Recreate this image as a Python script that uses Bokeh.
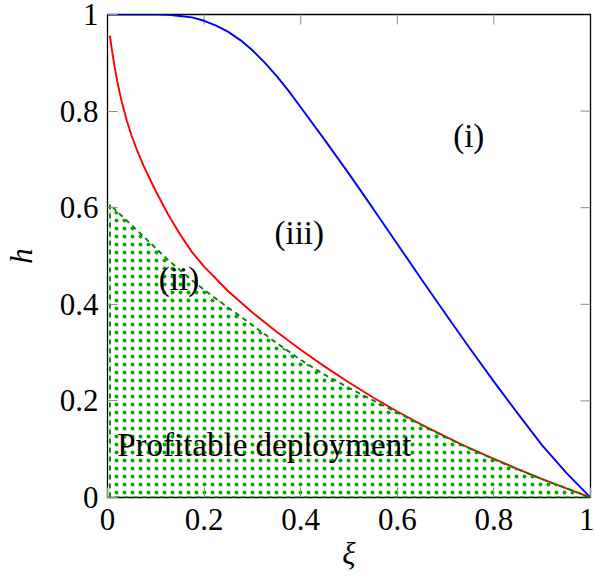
import math
from bokeh.plotting import figure
from bokeh.models import Range1d, FixedTicker
from bokeh.core.properties import value
from bokeh.embed import file_html
from bokeh.resources import INLINE

# ---- data ----
blue_x = [0, 0.05, 0.1, 0.125, 0.15, 0.175, 0.2, 0.225, 0.25, 0.275, 0.3, 0.325,
          0.35, 0.375, 0.4, 0.45, 0.5, 0.55, 0.6, 0.65, 0.7, 0.75, 0.8, 0.85,
          0.9, 0.95, 1.0]
blue_h = [1.0, 1.0, 1.0, 0.9995, 0.997, 0.994, 0.987, 0.977, 0.964, 0.947, 0.926,
          0.901, 0.873, 0.842, 0.808, 0.740, 0.670, 0.598, 0.525, 0.452, 0.380,
          0.309, 0.240, 0.173, 0.108, 0.051, 0.0]

red_x = [0.005, 0.01, 0.015, 0.02, 0.025, 0.03, 0.04, 0.05, 0.06, 0.075, 0.1, 0.125,
         0.15, 0.175, 0.2, 0.25, 0.3, 0.35, 0.4, 0.45, 0.5, 0.55, 0.6, 0.65, 0.7,
         0.75, 0.8, 0.85, 0.9, 0.95, 1.0]
red_h = [0.956, 0.921, 0.890, 0.863, 0.839, 0.8175, 0.780, 0.749, 0.722, 0.686,
         0.634, 0.587, 0.545, 0.508, 0.478, 0.427, 0.383, 0.343, 0.306, 0.271,
         0.238, 0.207, 0.178, 0.151, 0.126, 0.102, 0.080, 0.059, 0.038, 0.019, 0.0]

green_x = [0.005, 0.005, 0.025, 0.05, 0.075, 0.1, 0.125, 0.15, 0.175, 0.2, 0.25,
           0.3, 0.35, 0.4, 0.45, 0.5, 0.55, 0.6, 0.65, 0.7, 0.75, 0.8, 0.85, 0.9,
           0.95, 1.0]
green_h = [0.0, 0.607, 0.587, 0.564, 0.540, 0.516, 0.492, 0.471, 0.450, 0.430, 0.393,
           0.357, 0.320, 0.285, 0.254, 0.227, 0.201, 0.176, 0.150, 0.125, 0.101,
           0.079, 0.058, 0.038, 0.019, 0.0]

ticks = [0, 0.2, 0.4, 0.6, 0.8, 1]
tick_labels = ["0", "0.2", "0.4", "0.6", "0.8", "1"]

region_labels = ["(i)", "(iii)", "(ii)"]
region_x = [0.748, 0.397, 0.148]
region_y = [0.749, 0.547, 0.453]
note_text = ["Profitable deployment"]
note_x = [0.02]
note_y = [0.108]

X_MIN, X_MAX, Y_MIN, Y_MAX = 0, 1, 0, 1

FONT = "Liberation Serif"
FS = "31px"
FS_NOTE = "33px"
TICK_COLOR = "#8c8c8c"

p = figure(width=594, height=583, output_backend="svg", toolbar_location=None,
           x_range=Range1d(X_MIN, X_MAX), y_range=Range1d(Y_MIN, Y_MAX),
           min_border_left=105, min_border_right=4, min_border_top=14,
           min_border_bottom=86)
p.background_fill_color = "white"
p.border_fill_color = "white"
p.grid.visible = False
p.outline_line_color = "black"
p.outline_line_width = 1.3

overrides = dict(zip(ticks, tick_labels))
for ax in (p.xaxis[0], p.yaxis[0]):
    ax.ticker = FixedTicker(ticks=ticks)
    ax.major_label_overrides = overrides
    ax.major_tick_in = 10
    ax.major_tick_out = 0
    ax.minor_tick_in = 0
    ax.minor_tick_out = 0
    ax.minor_tick_line_color = None
    ax.major_tick_line_color = TICK_COLOR
    ax.major_tick_line_width = 1
    ax.axis_line_color = None
    ax.major_label_text_font = FONT
    ax.major_label_text_font_size = FS
    ax.major_label_text_color = "black"
    ax.axis_label_text_font = FONT
    ax.axis_label_text_font_size = FS
    ax.axis_label_text_font_style = "italic"
    ax.axis_label_text_color = "black"

p.xaxis[0].major_label_standoff = 11
p.yaxis[0].major_label_standoff = 9
p.xaxis[0].axis_label = "ξ"
p.xaxis[0].axis_label_standoff = 3
p.yaxis[0].axis_label = "h"
p.yaxis[0].axis_label_standoff = 18

# mirrored inward ticks on the top and right edges (dash markers, clipped to frame)
inner = ticks[1:-1]
p.scatter(x=[X_MAX] * len(inner), y=inner, marker="dash", size=20,
          line_color=TICK_COLOR, line_width=1)
p.scatter(x=inner, y=[Y_MAX] * len(inner), marker="dash", size=20,
          angle=math.pi / 2, line_color=TICK_COLOR, line_width=1)

p.line(blue_x, blue_h, line_color="#0000ff", line_width=1.9)
p.line(red_x, red_h, line_color="#ff0000", line_width=1.9)
p.patch(green_x, green_h, fill_color=None, line_color="#008a00", line_width=1.9,
        line_dash="5 4", hatch_pattern="dot", hatch_color="#00a800",
        hatch_scale=8, hatch_weight=1)

p.text(region_x, region_y, text=region_labels, text_font=value(FONT),
       text_font_size=FS_NOTE, text_align="center", text_baseline="middle",
       text_color="black")
p.text(note_x, note_y, text=note_text, text_font=value(FONT),
       text_font_size=FS_NOTE, text_align="left", text_baseline="middle",
       text_color="black")

open("out.html", "w").write(file_html(p, INLINE))
